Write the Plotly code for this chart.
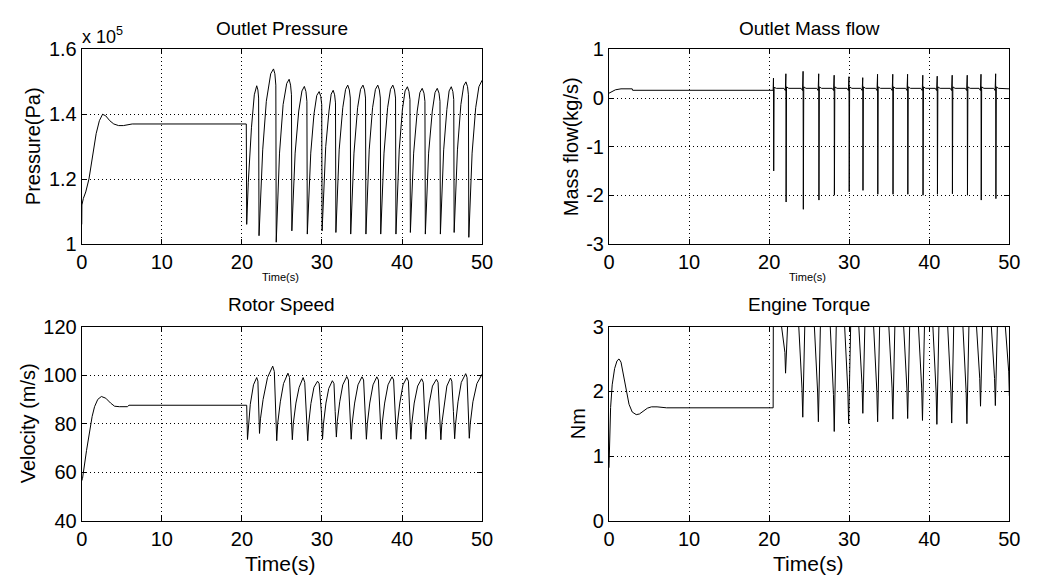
import plotly.graph_objects as go

# ---------------- data ----------------
pressure_t = [
    0, 0.02, 0.2, 0.5, 0.9, 1.3, 1.8, 2.2, 2.6, 3.0, 3.5, 4.0, 4.6, 5.2, 5.8, 6.3, 20.55,
    20.6, 20.8, 21.2, 21.55, 21.85, 22.0, 22.09,
    22.14, 22.6, 23.05, 23.6, 23.95, 24.12, 24.24,
    24.29, 24.7, 25.15, 25.6, 25.9, 26.08, 26.19,
    26.24, 26.65, 27.1, 27.5, 27.8, 28.0, 28.12,
    28.17, 28.6, 29.0, 29.35, 29.65, 29.85, 29.97,
    30.02, 30.47, 30.88, 31.15, 31.4, 31.58, 31.69,
    31.74, 32.15, 32.6, 32.95, 33.22, 33.42, 33.54,
    33.59, 34.0, 34.45, 34.82, 35.12, 35.32, 35.44,
    35.49, 35.9, 36.32, 36.68, 36.97, 37.17, 37.29,
    37.34, 37.75, 38.2, 38.56, 38.85, 39.06, 39.19,
    39.24, 39.65, 40.05, 40.38, 40.67, 40.87, 40.99,
    41.04, 41.45, 41.9, 42.23, 42.52, 42.74, 42.86,
    42.91, 43.32, 43.78, 44.12, 44.4, 44.62, 44.74,
    44.79, 45.2, 45.6, 45.88, 46.15, 46.35, 46.46,
    46.51, 46.92, 47.35, 47.7, 47.98, 48.18, 48.29,
    48.34, 48.75, 49.2, 49.6, 50.0]
pressure_x1e5 = [
    1.06, 1.12, 1.14, 1.16, 1.20, 1.26, 1.34, 1.38, 1.40, 1.395, 1.38, 1.37, 1.365, 1.365, 1.368, 1.37, 1.37,
    1.06, 1.19, 1.36, 1.46, 1.488, 1.475, 1.45,
    1.025, 1.29, 1.44, 1.525, 1.54, 1.525, 1.49,
    1.005, 1.28, 1.43, 1.495, 1.508, 1.49, 1.46,
    1.04, 1.28, 1.41, 1.472, 1.486, 1.47, 1.44,
    1.03, 1.28, 1.40, 1.458, 1.47, 1.455, 1.43,
    1.04, 1.30, 1.41, 1.462, 1.474, 1.46, 1.435,
    1.035, 1.29, 1.42, 1.477, 1.49, 1.475, 1.45,
    1.03, 1.28, 1.42, 1.477, 1.49, 1.475, 1.45,
    1.03, 1.29, 1.42, 1.477, 1.49, 1.475, 1.45,
    1.03, 1.28, 1.42, 1.477, 1.49, 1.475, 1.45,
    1.03, 1.29, 1.415, 1.472, 1.485, 1.47, 1.445,
    1.035, 1.28, 1.41, 1.467, 1.48, 1.465, 1.44,
    1.03, 1.28, 1.41, 1.467, 1.48, 1.465, 1.44,
    1.03, 1.29, 1.415, 1.472, 1.485, 1.47, 1.445,
    1.035, 1.29, 1.43, 1.488, 1.50, 1.485, 1.46,
    1.02, 1.28, 1.42, 1.485, 1.505]

massflow_t = [
    0, 0.3, 0.8, 1.5, 2.2, 2.9, 2.95, 20.5,
    20.54, 20.57, 20.62, 20.9, 21.85, 22.02,
    22.09, 22.12, 22.17, 22.45, 24.0, 24.17,
    24.24, 24.27, 24.32, 24.6, 25.95, 26.12,
    26.19, 26.22, 26.27, 26.55, 27.88, 28.05,
    28.12, 28.15, 28.2, 28.48, 29.73, 29.9,
    29.97, 30.0, 30.05, 30.33, 31.45, 31.62,
    31.69, 31.72, 31.77, 32.05, 33.3, 33.47,
    33.54, 33.57, 33.62, 33.9, 35.2, 35.37,
    35.44, 35.47, 35.52, 35.8, 37.05, 37.22,
    37.29, 37.32, 37.37, 37.65, 38.95, 39.12,
    39.19, 39.22, 39.27, 39.55, 40.75, 40.92,
    40.99, 41.02, 41.07, 41.35, 42.62, 42.79,
    42.86, 42.89, 42.94, 43.22, 44.5, 44.67,
    44.74, 44.77, 44.82, 45.1, 46.22, 46.39,
    46.46, 46.49, 46.54, 46.82, 48.05, 48.22,
    48.29, 48.32, 48.37, 48.65, 50.0]
massflow_kgs = [
    0.1, 0.13, 0.17, 0.19, 0.19, 0.19, 0.16, 0.16,
    0.41, -1.5, 0.22, 0.2, 0.2, 0.155,
    0.5, -2.14, 0.23, 0.2, 0.2, 0.155,
    0.55, -2.29, 0.23, 0.2, 0.2, 0.155,
    0.5, -2.1, 0.23, 0.2, 0.2, 0.155,
    0.47, -2.0, 0.23, 0.2, 0.2, 0.155,
    0.44, -1.93, 0.23, 0.2, 0.2, 0.155,
    0.42, -1.9, 0.23, 0.2, 0.2, 0.155,
    0.49, -1.98, 0.23, 0.2, 0.2, 0.155,
    0.49, -1.98, 0.23, 0.2, 0.2, 0.155,
    0.49, -1.98, 0.23, 0.2, 0.2, 0.155,
    0.47, -2.0, 0.23, 0.2, 0.2, 0.155,
    0.45, -1.98, 0.23, 0.2, 0.2, 0.155,
    0.47, -1.97, 0.23, 0.2, 0.2, 0.155,
    0.47, -2.0, 0.23, 0.2, 0.2, 0.155,
    0.49, -2.1, 0.23, 0.2, 0.2, 0.155,
    0.5, -2.07, 0.23, 0.2, 0.19]

speed_t = [
    0, 0.1, 0.6, 1.0, 1.3, 1.6, 2.0, 2.45, 3.0, 3.6, 4.1, 4.7, 5.7, 5.9, 20.6,
    20.7, 20.8, 21.05, 21.45, 21.85, 22.0, 22.12,
    22.2, 22.32, 22.65, 23.2, 23.85, 24.05, 24.22,
    24.35, 24.47, 24.8, 25.2, 25.75, 25.95, 26.15,
    26.3, 26.42, 26.75, 27.15, 27.65, 27.85, 28.07,
    28.22, 28.34, 28.62, 29.0, 29.45, 29.65, 29.92,
    30.07, 30.19, 30.5, 30.85, 31.3, 31.5, 31.65,
    31.8, 31.92, 32.22, 32.6, 33.1, 33.3, 33.5,
    33.65, 33.77, 34.08, 34.5, 35.0, 35.2, 35.4,
    35.55, 35.67, 35.97, 36.38, 36.85, 37.05, 37.25,
    37.4, 37.52, 37.83, 38.25, 38.75, 38.95, 39.15,
    39.3, 39.42, 39.72, 40.12, 40.6, 40.8, 40.95,
    41.1, 41.22, 41.52, 41.95, 42.45, 42.65, 42.82,
    42.97, 43.09, 43.4, 43.8, 44.3, 44.5, 44.7,
    44.85, 44.97, 45.27, 45.6, 46.05, 46.22, 46.42,
    46.57, 46.69, 46.99, 47.4, 47.95, 48.12, 48.25,
    48.4, 48.52, 48.85, 49.35, 50.0]
speed_ms = [
    56.5, 57.5, 69, 78, 83, 87, 90, 91.2, 90.5, 88.5, 87.2, 87.0, 87.0, 87.6, 87.6,
    73.5, 79, 88, 96, 99.0, 97.5, 86,
    76, 82, 90, 99, 103.7, 101.5, 86,
    73, 80, 89, 96.5, 100.8, 99, 85,
    73.4, 80, 88.5, 95, 99.0, 97, 84,
    73, 80, 88.3, 95, 97.5, 96.5, 85,
    73.6, 80, 88.5, 94.5, 97.7, 96.5, 85,
    74.5, 81, 89, 96, 99.4, 98, 85,
    73.6, 80, 88.5, 96, 99.3, 98, 85,
    73.6, 80, 88.5, 96, 99.3, 98, 85,
    73.6, 80, 88.5, 96, 99.3, 98, 85,
    73.6, 80, 88.5, 96, 99.0, 97.5, 85,
    73.6, 80, 88.5, 95.5, 98.5, 97, 85,
    73.6, 80, 88.5, 95.5, 98.3, 97, 85,
    73.4, 80, 88.5, 95.5, 98.8, 97.5, 85,
    73.8, 80, 89, 97, 100.6, 99, 86,
    74, 80, 89, 96.5, 100.4]

torque_t = [
    0, 0.05, 0.2, 0.4, 0.7, 1.0, 1.25, 1.5, 1.8, 2.1, 2.5, 2.9, 3.4, 3.8, 4.3, 4.8, 5.3, 6.0, 7.2, 20.5, 20.52,
    21.55, 21.97, 22.05, 22.3,
    23.7, 24.1, 24.2, 24.45,
    25.65, 26.05, 26.15, 26.4,
    27.63, 28.03, 28.13, 28.38,
    29.43, 29.83, 29.93, 30.18,
    31.2, 31.6, 31.7, 31.95,
    33.05, 33.45, 33.55, 33.8,
    34.95, 35.35, 35.45, 35.7,
    36.8, 37.2, 37.3, 37.55,
    38.65, 39.05, 39.15, 39.4,
    40.45, 40.85, 40.95, 41.2,
    42.3, 42.7, 42.8, 43.05,
    44.2, 44.6, 44.7, 44.95,
    45.9, 46.3, 46.4, 46.65,
    47.75, 48.15, 48.25, 48.5,
    49.5, 49.92, 50.0]
torque_nm = [
    0.82, 1.2, 1.75, 2.1, 2.35, 2.47, 2.5, 2.45, 2.25, 2.02, 1.8, 1.68, 1.64, 1.65, 1.7, 1.74, 1.76, 1.76, 1.745, 1.745, 3.0,
    3.0, 2.6, 2.28, 3.0,
    3.0, 2.05, 1.6, 3.0,
    3.0, 2.0, 1.53, 3.0,
    3.0, 1.95, 1.38, 3.0,
    3.0, 2.0, 1.5, 3.0,
    3.0, 2.1, 1.66, 3.0,
    3.0, 2.0, 1.53, 3.0,
    3.0, 2.05, 1.57, 3.0,
    3.0, 2.05, 1.58, 3.0,
    3.0, 2.05, 1.55, 3.0,
    3.0, 2.0, 1.49, 3.0,
    3.0, 2.0, 1.51, 3.0,
    3.0, 2.0, 1.5, 3.0,
    3.0, 2.2, 1.77, 3.0,
    3.0, 2.2, 1.78, 3.0,
    3.0, 2.3, 1.93]

x_ticks = [0, 10, 20, 30, 40, 50]
pressure_ticks = [1.0, 1.2, 1.4, 1.6]
pressure_ticklabels = ["1", "1.2", "1.4", "1.6"]
massflow_ticks = [-3, -2, -1, 0, 1]
massflow_ticklabels = ["-3", "-2", "-1", "0", "1"]
speed_ticks = [40, 60, 80, 100, 120]
torque_ticks = [0, 1, 2, 3]

titles = ["Outlet Pressure", "Outlet Mass flow", "Rotor Speed", "Engine Torque"]
ylabels = ["Pressure(Pa)", "Mass flow(kg/s)", "Velocity (m/s)", "Nm"]

# ---------------- figure ----------------
W, H = 1042, 579
FONT = "Liberation Sans, Arial, Helvetica, sans-serif"

def px_x(x):
    return x / W

def px_y(y):
    return 1 - y / H

fig = go.Figure()
line = dict(color="black", width=1)
fig.add_trace(go.Scatter(x=pressure_t, y=pressure_x1e5, mode="lines", line=line, xaxis="x", yaxis="y"))
fig.add_trace(go.Scatter(x=massflow_t, y=massflow_kgs, mode="lines", line=line, xaxis="x2", yaxis="y2"))
fig.add_trace(go.Scatter(x=speed_t, y=speed_ms, mode="lines", line=line, xaxis="x3", yaxis="y3"))
fig.add_trace(go.Scatter(x=torque_t, y=torque_nm, mode="lines", line=line, xaxis="x4", yaxis="y4"))

common = dict(
    showline=True, linecolor="black", linewidth=1, mirror="allticks",
    ticks="inside", ticklen=5, tickcolor="black", tickwidth=1,
    showgrid=True, gridcolor="black", gridwidth=1, griddash="1px,3px",
    zeroline=False, tickfont=dict(family=FONT, size=20, color="black"),
    fixedrange=True,
)

left_dom = [px_x(77), px_x(484)]
right_dom = [px_x(613), px_x(1020)]
top_dom = [px_y(242), px_y(40)]
bot_dom = [px_y(530), px_y(328)]

def xax(dom, anchor):
    return dict(common, domain=dom, anchor=anchor, range=[0, 50], tickvals=x_ticks)

fig.update_layout(
    width=W, height=H, margin=dict(l=0, r=0, t=0, b=0),
    paper_bgcolor="white", plot_bgcolor="white", showlegend=False,
    font=dict(family=FONT, color="black"),
    xaxis=xax(left_dom, "y"),
    yaxis=dict(common, domain=top_dom, anchor="x", range=[1.0, 1.6],
               tickvals=pressure_ticks, ticktext=pressure_ticklabels),
    xaxis2=xax(right_dom, "y2"),
    yaxis2=dict(common, domain=top_dom, anchor="x2", range=[-3, 1],
                tickvals=massflow_ticks, ticktext=massflow_ticklabels),
    xaxis3=xax(left_dom, "y3"),
    yaxis3=dict(common, domain=bot_dom, anchor="x3", range=[40, 120], tickvals=speed_ticks),
    xaxis4=xax(right_dom, "y4"),
    yaxis4=dict(common, domain=bot_dom, anchor="x4", range=[0, 3], tickvals=torque_ticks),
)

cx_left = px_x((77 + 484) / 2)
cx_right = px_x((613 + 1020) / 2)
ann = []
# titles
for (cx, cy), t in zip([(cx_left, 18), (cx_right, 18), (cx_left, 305), (cx_right, 305)], titles):
    ann.append(dict(text=t, x=cx, y=px_y(cy), xref="paper", yref="paper",
                    xanchor="center", yanchor="middle", showarrow=False,
                    font=dict(family=FONT, size=19, color="black")))
# y labels
for (lx, ly), t in zip([(27, 141), (574, 141), (22, 429), (581, 429)], ylabels):
    ann.append(dict(text=t, x=px_x(lx), y=px_y(ly), xref="paper", yref="paper",
                    xanchor="center", yanchor="middle", textangle=-90, showarrow=False,
                    font=dict(family=FONT, size=20, color="black")))
# x labels
for lx, ly, sz in [(279, 277, 11), (815, 277, 11), (279, 574, 21), (815, 574, 21)]:
    ann.append(dict(text="Time(s)", x=px_x(lx), y=px_y(ly), xref="paper", yref="paper",
                    xanchor="center", yanchor="middle", showarrow=False,
                    font=dict(family=FONT, size=sz, color="black")))
# exponent label
ann.append(dict(text="x 10<sup>5</sup>", x=px_x(75), y=px_y(25), xref="paper", yref="paper",
                xanchor="left", yanchor="middle", showarrow=False,
                font=dict(family=FONT, size=18, color="black")))
fig.update_layout(annotations=ann)

fig.write_html("out.html")
